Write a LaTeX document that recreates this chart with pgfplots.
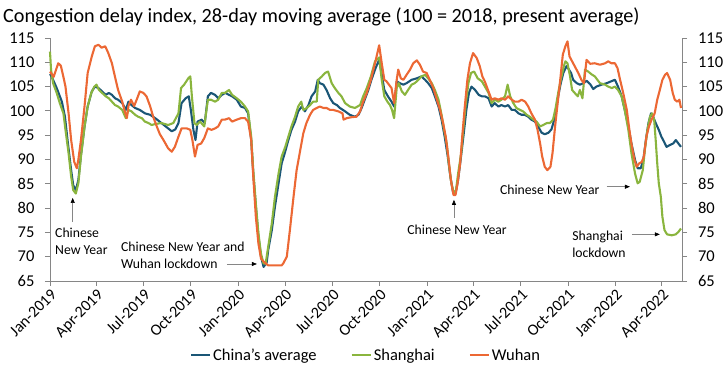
\documentclass[border=0pt]{standalone}
\usepackage{pgfplots}
\pgfplotsset{compat=1.18}
\usepackage{fontspec}
\setmainfont{Carlito}
\usetikzlibrary{arrows.meta}
\definecolor{cblue}{RGB}{26,86,118}
\definecolor{cgreen}{RGB}{138,181,62}
\definecolor{corange}{RGB}{236,104,52}
\definecolor{axgray}{RGB}{134,134,134}
\newcommand{\tickfont}{\fontsize{16.5}{19}\selectfont}
\newcommand{\xtickfont}{\fontsize{16}{19}\selectfont}
\newcommand{\annfont}{\fontsize{13.7}{17}\selectfont}
\tikzset{annarrow/.style={draw=axgray, line width=0.6pt, -{Triangle[length=5pt,width=4pt,color=black]}}}
\begin{document}
\begin{tikzpicture}
\begin{axis}[
  scale only axis, width=632pt, height=243pt,
  xmin=0, xmax=1225, ymin=65, ymax=115,
  clip=false,
  axis y line*=left, axis x line*=bottom,
  axis line style={axgray, line width=0.8pt},
  tick style={axgray, line width=0.8pt},
  tick align=outside, major tick length=5pt,
  xtick={0,90,181,273,365,456,547,639,731,821,912,1004,1096,1186},
  xticklabels={Jan-2019,Apr-2019,Jul-2019,Oct-2019,Jan-2020,Apr-2020,Jul-2020,Oct-2020,Jan-2021,Apr-2021,Jul-2021,Oct-2021,Jan-2022,Apr-2022},
  xticklabel style={rotate=45, anchor=north east, font=\xtickfont, inner sep=1.5pt},
  ytick={65,70,75,80,85,90,95,100,105,110,115},
  yticklabels={65,70,75,80,85,90,95,100,105,110,115},
  yticklabel style={font=\tickfont, xshift=-7pt},
  legend columns=3,
  legend style={at={(0.5,-0.305)}, anchor=center, draw=none, font=\tickfont,
    /tikz/every even column/.append style={column sep=32pt}},
  legend image code/.code={\draw[#1, line width=2.2pt] (0pt,0pt) -- (19pt,0pt);},
]
\addplot[cblue, line width=2.1pt, line join=round] coordinates {
(0,107.6)(3,107.1)(13,104.7)(23,101.9)(29,98.8)(34,94)(41,87.8)(45,84.7)(50,83.7)(55,85.8)(60,90.9)(67,96.8)(73,100.9)(81,104)(87,105)(94,104.7)(101,104)(108,103.3)(114,103.7)(120,103.3)(126,102.6)(132,102.3)(140,101.6)(147,100.2)(152,101.9)(158,101.2)(165,100.6)(174,100.2)(184,99.5)(194,99.2)(204,98.5)(216,97.5)(229,96.4)(236,95.8)(243,96.2)(249,97.5)(255,101.6)(263,102.6)(269,103)(273,100.2)(278,96.1)(282,94)(286,97.8)(294,98.2)(300,97.5)(306,103)(312,103.7)(320,103.3)(326,102.6)(333,103.3)(340,103.7)(347,103.3)(353,103)(362,102.3)(370,100.9)(378,100.6)(384,99.5)(390,94)(394,87.1)(399,80.3)(404,74.1)(409,70)(414,67.9)(420,68.8)(423,71.4)(430,75.5)(436,80.3)(443,85.1)(449,89.2)(455,91.3)(462,94)(468,96.1)(475,97.8)(481,99.9)(488,100.9)(494,99.9)(501,101.2)(507,103)(514,104)(519,106.4)(523,105.7)(530,105.4)(536,104.3)(543,102.6)(549,101.6)(556,101.2)(562,100.6)(572,99.9)(581,99.2)(591,98.8)(598,99.2)(604,100.6)(611,102.6)(617,104.3)(623,106.4)(631,108.8)(638,110.5)(643,107.5)(648,104.3)(655,103)(662,101.9)(667,100.9)(672,106.1)(678,105.7)(685,105.4)(691,105.7)(701,106.4)(711,106.7)(720,107.1)(727,106.4)(733,105.7)(740,104.7)(746,103)(753,100.9)(759,98.2)(765,94.7)(771,90.6)(776,86.5)(781,83.4)(786,83)(791,85.8)(796,90)(802,95.4)(807,100.2)(812,103.7)(817,105)(824,104.3)(831,103.3)(837,103)(843,103)(850,102.6)(856,100.9)(862,101.6)(869,100.9)(875,101.2)(882,100.9)(888,101.2)(895,100.2)(901,100.2)(908,99.5)(914,99.2)(920,99.2)(927,98.8)(933,98.2)(940,97.8)(946,96.8)(953,95.5)(959,95.2)(966,95.5)(972,96.2)(979,98.8)(985,103)(990,105.7)(995,107.8)(1001,109.2)(1004,108.8)(1010,107.8)(1014,106.4)(1021,105.7)(1027,105.4)(1034,105.7)(1040,106.2)(1047,105.5)(1053,104.5)(1059,105)(1069,105.4)(1079,105.7)(1088,106.1)(1095,106.4)(1101,105)(1108,103)(1114,100.2)(1121,96.8)(1127,93.3)(1134,89.9)(1139,88.2)(1145,88.2)(1150,89.9)(1155,94)(1160,97.5)(1165,99.5)(1169,98.8)(1174,97.5)(1180,96.1)(1185,94.7)(1190,93.7)(1195,92.6)(1202,93)(1208,93.3)(1213,94)(1218,93.3)(1223,92.6)
};
\addlegendentry{China's average}
\addplot[cgreen, line width=2.1pt, line join=round] coordinates {
(0,112.2)(2,108.5)(6,105.7)(13,103.7)(19,101.6)(26,99.5)(30,96.1)(36,91.3)(41,86.5)(45,83.7)(50,83)(55,85.1)(60,90.6)(67,96.8)(73,100.9)(80,103.7)(86,105)(90,105.4)(95,104.3)(101,103.7)(108,103)(114,102.6)(120,101.9)(126,101.2)(132,100.9)(140,100.2)(147,98.5)(152,100.2)(158,99.9)(165,99.2)(171,98.8)(178,98.5)(184,97.8)(191,97.5)(197,97.1)(204,97.3)(216,97.5)(229,97.1)(239,97.5)(249,99.5)(254,104.7)(260,105.4)(268,106.7)(272,107.1)(275,103)(280,97.5)(284,97.1)(291,97.8)(299,96.8)(306,102.3)(312,102.3)(320,101.9)(326,102.3)(333,103.7)(339,103.7)(347,104.3)(353,103.3)(362,102.6)(370,101.9)(378,100.9)(384,99.9)(390,94.7)(394,87.8)(399,80.9)(404,74.8)(409,70.6)(414,68.6)(418,68.6)(423,72.1)(430,76.9)(436,82.3)(443,87.1)(449,90.6)(456,92.6)(462,94.7)(468,96.8)(475,98.8)(481,100.9)(487,101.9)(491,100.2)(498,100.6)(504,101.2)(510,101.9)(517,101.9)(520,106.4)(527,107.1)(533,107.8)(539,108.1)(546,105.7)(552,104.7)(559,103.7)(565,103)(572,101.6)(581,100.9)(591,100.6)(601,101.2)(607,103)(614,104.7)(622,107.1)(630,110.2)(638,111)(643,106.4)(648,103)(654,101.9)(659,101.2)(663,100.2)(667,98.5)(672,104.7)(676,105.7)(682,104)(688,103.3)(694,104.3)(701,105.4)(707,105.7)(714,106.4)(720,107.1)(727,107.4)(733,106.7)(740,105.7)(746,104.3)(753,102.3)(759,99.2)(764,96.1)(769,93.3)(773,89.2)(778,85.1)(783,83)(787,83.7)(791,87.1)(797,91.3)(801,96.1)(806,101.6)(811,105.7)(816,107.8)(822,108.1)(829,106.7)(837,106.1)(843,105)(850,103.7)(856,101.6)(862,102.3)(869,101.9)(875,102.3)(882,103)(887,105.4)(892,103)(898,101.6)(904,100.6)(911,100.2)(917,99.9)(924,99.2)(930,98.8)(937,98.2)(943,97.8)(950,96.8)(956,97.1)(963,97.5)(969,97.5)(975,98.2)(980,100.6)(985,103.7)(990,106.4)(996,109.2)(999,110.2)(1003,109.8)(1008,107.1)(1012,104.3)(1017,103.7)(1023,103)(1027,104.3)(1032,102.6)(1037,108.5)(1043,108.1)(1050,107.5)(1056,107.1)(1066,105.7)(1076,105.4)(1082,105)(1089,104.7)(1095,105)(1101,104.3)(1108,103)(1114,100.2)(1121,96.1)(1127,91.3)(1134,87.1)(1139,85.1)(1143,85.4)(1149,87.8)(1153,92)(1158,96.1)(1163,98.8)(1167,99.5)(1171,98.2)(1174,94)(1177,89.2)(1180,85.1)(1184,82.3)(1187,78.2)(1191,75.5)(1196,74.6)(1205,74.4)(1213,74.6)(1218,75.1)(1223,75.8)
};
\addlegendentry{Shanghai}
\addplot[corange, line width=2.1pt, line join=round] coordinates {
(0,108.1)(7,107)(16,109.8)(21,109.3)(26,107)(30,105)(36,99.5)(41,94)(47,89.5)(52,88.2)(55,90)(60,94)(67,101)(73,107.8)(81,111.2)(87,113.3)(94,113.6)(100,113)(107,113.3)(113,111.9)(120,109.8)(126,107)(132,104.3)(140,101.9)(146,99.5)(149,98.5)(152,101)(157,102.3)(163,101)(168,102.3)(174,104)(181,103.7)(187,103)(194,101)(200,98.8)(207,96.8)(213,95.2)(220,94)(229,92.3)(236,91.6)(242,92.6)(249,94.7)(255,96.4)(265,96.4)(272,96.1)(276,94)(281,90.6)(286,93)(293,93.3)(299,94.4)(306,96.4)(313,96.1)(320,96.4)(326,96.8)(333,98.2)(339,98.2)(347,98.5)(353,97.8)(362,98.2)(370,98.5)(378,98.5)(384,97.8)(390,94)(394,86.5)(399,78.2)(404,72.7)(409,69.6)(415,68.9)(423,68.2)(436,68.2)(449,68.2)(452,68.6)(459,70)(465,75.5)(472,82.3)(478,87.8)(485,91.9)(491,95.4)(497,97.5)(504,99.2)(510,100.2)(517,100.6)(523,100.9)(530,100.6)(536,100.6)(543,100.2)(549,100.2)(559,99.9)(567,99.5)(569,98.2)(575,98.5)(584,98.7)(594,98.8)(601,99.9)(607,101.9)(614,103.7)(622,106.4)(630,109.8)(638,113.5)(643,109.8)(648,106.4)(652,106.1)(657,105.4)(662,104.7)(667,101.6)(672,106.4)(675,108.5)(680,106.7)(685,106.4)(691,107.4)(698,108.5)(704,109.8)(711,110.4)(717,109.5)(723,108.1)(730,107.8)(736,106.4)(743,104.7)(749,102.6)(756,100.2)(762,97.5)(767,94.7)(772,90.6)(777,85.8)(782,82.7)(786,82.7)(790,85.1)(795,89.2)(799,94.7)(804,100.9)(809,106.4)(814,109.8)(820,111.9)(827,110.9)(833,109.2)(838,107.1)(843,106)(850,104)(856,102.3)(862,102.6)(869,102.3)(875,102.6)(882,102.3)(888,103)(895,102.3)(901,101.9)(908,101.9)(914,102.3)(921,101.9)(927,100.9)(933,99.5)(940,98.2)(945,96.1)(950,93.3)(954,90.6)(959,88.5)(964,87.8)(970,88.5)(974,91.3)(979,96.8)(984,101.6)(989,106.4)(994,111.6)(999,113.3)(1003,114.3)(1007,111.2)(1012,110.2)(1017,109.2)(1024,107.8)(1030,106.4)(1035,105.7)(1040,110.5)(1047,109.7)(1056,109.8)(1066,109.5)(1076,109.8)(1082,110.2)(1088,109.8)(1095,109.8)(1100,108.8)(1105,106.4)(1111,103.7)(1118,100.2)(1123,96.1)(1128,92.6)(1133,89.9)(1137,88.5)(1142,89.2)(1147,89.5)(1151,90.6)(1156,94.7)(1161,96.8)(1166,98.2)(1172,99.5)(1177,102.3)(1182,104.3)(1187,106.4)(1192,107.4)(1196,107.8)(1202,106.4)(1207,103.7)(1211,102.3)(1216,101.9)(1220,102.3)(1223,100.6)
};
\addlegendentry{Wuhan}
% annotations
\node[anchor=west, align=left, inner sep=0pt, font=\annfont] at (axis cs:9.7,73.1) {Chinese\\New Year};
\draw[annarrow] (axis cs:44,77.1) -- (axis cs:44,82.1);
\node[anchor=west, align=left, inner sep=0pt, font=\annfont] at (axis cs:137.6,70.2) {Chinese New Year and\\Wuhan lockdown};
\draw[annarrow] (axis cs:343,68.5) -- (axis cs:401,68.5);
\node[anchor=center, inner sep=0pt, font=\annfont] at (axis cs:789,75.5) {Chinese New Year};
\draw[annarrow] (axis cs:783,78) -- (axis cs:783,81.7);
\node[anchor=west, inner sep=0pt, font=\annfont] at (axis cs:872,83.8) {Chinese New Year};
\draw[annarrow] (axis cs:1079,84.4) -- (axis cs:1124,84.4);
\node[anchor=west, align=left, inner sep=0pt, font=\annfont] at (axis cs:1012,72.5) {Shanghai\\lockdown};
\draw[annarrow] (axis cs:1128,74.6) -- (axis cs:1182,74.6);
\end{axis}
\begin{axis}[
  scale only axis, width=632pt, height=243pt,
  xmin=0, xmax=1225, ymin=65, ymax=115,
  axis y line*=right, axis x line=none,
  axis line style={axgray, line width=0.8pt},
  tick style={axgray, line width=0.8pt},
  tick align=outside, major tick length=5pt,
  ytick={65,70,75,80,85,90,95,100,105,110,115},
  yticklabels={65,70,75,80,85,90,95,100,105,110,115},
  yticklabel style={font=\tickfont, xshift=7.5pt},
]
\end{axis}
\node[anchor=west, inner sep=0pt, font=\fontsize{20.2}{24}\selectfont] at (-47pt,264pt) {Congestion delay index, 28-day moving average (100 = 2018, present average)};
\pgfresetboundingbox
\path[use as bounding box] (-50pt,-90pt) rectangle (675pt,281pt);
\end{tikzpicture}
\end{document}
